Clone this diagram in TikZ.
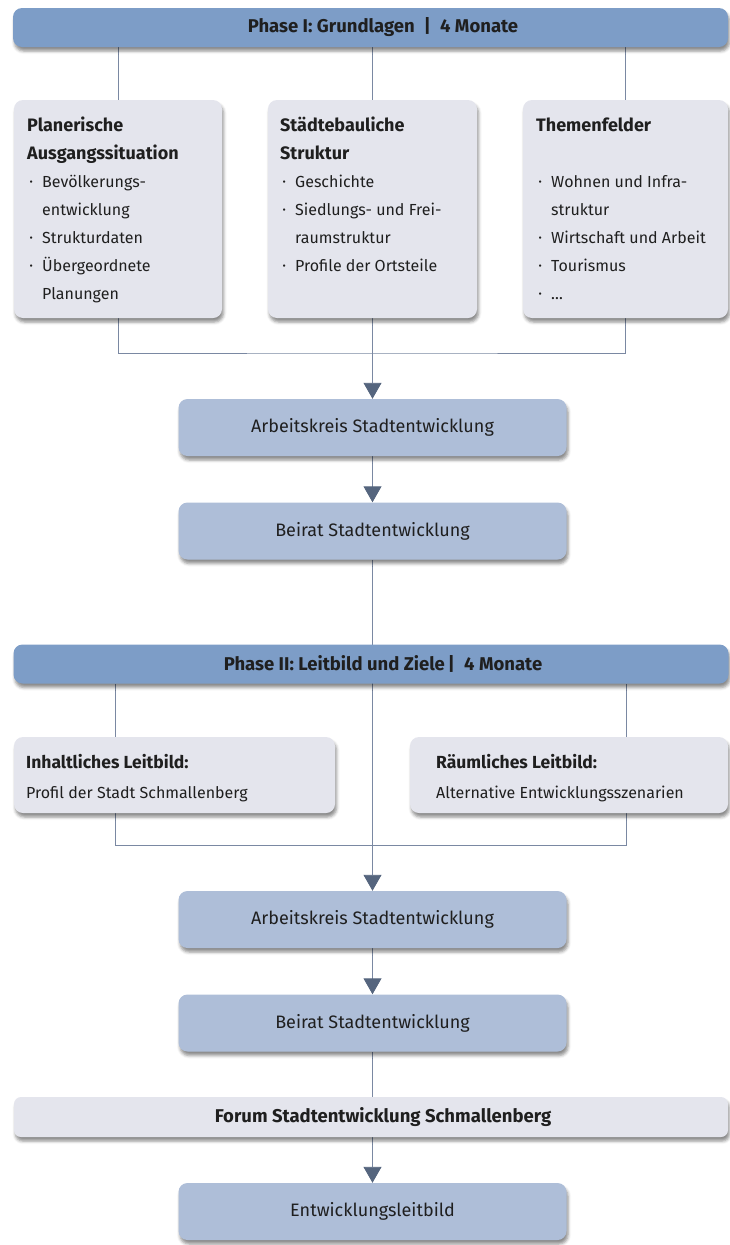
\documentclass[tikz,border=0pt]{standalone}
\usepackage{fontspec}
\setmainfont{Fira Sans}
\usetikzlibrary{arrows.meta,shadows.blur,calc}
\definecolor{hdr}{HTML}{7D9DC7}
\definecolor{mid}{HTML}{AEBED8}
\definecolor{lite}{HTML}{E4E5ED}
\definecolor{ln}{HTML}{7A88A2}
\definecolor{arr}{HTML}{55657E}
\definecolor{txt}{HTML}{1F1F1F}
\pgfdeclarelayer{bg}
\pgfsetlayers{bg,main}
\newcommand\itmb{\makebox[15pt][l]{\hspace{2.5pt}\raisebox{0.15ex}{\fontsize{10}{10}\selectfont\textbullet}}}
\newcommand\itmi{\hspace*{15pt}}
\tikzset{
  shd/.style={blur shadow={shadow xshift=1.5pt,shadow yshift=-4pt,shadow blur radius=3pt,shadow opacity=45}},
  hdrbar/.style={shd, fill=hdr, rounded corners=9pt, minimum width=715pt, minimum height=39pt, inner sep=0pt},
  litebox/.style={shd, fill=lite, rounded corners=9pt, inner sep=0pt},
  midbox/.style={shd, fill=mid, rounded corners=9pt, minimum width=388pt, minimum height=57pt, inner sep=0pt, font=\fontsize{18}{21}\selectfont, text=txt},
  htext/.style={font=\bfseries\fontsize{18.5}{22}\selectfont, text=txt, inner sep=0pt},
  boxtext/.style={anchor=base west, inner sep=0pt, text=txt},
  conn/.style={draw=ln, line width=0.9pt},
  arrowc/.style={conn, -{Triangle[width=18pt,length=16pt,color=arr]}}
}
\begin{document}
\begin{tikzpicture}[x=1pt,y=-1pt]
\useasboundingbox (0,0) rectangle (729,1245);
% Phase I
\node[hdrbar] (p1) at (370.5,27.5) {};
\node[htext] (p1t) at (383,27.5) {Phase I: Grundlagen\enspace|\enspace 4 Monate};
\node[litebox, minimum width=208pt, minimum height=218pt] (b1) at (118,209) {};
\node[litebox, minimum width=209pt, minimum height=218pt] (b2) at (372.5,209) {};
\node[litebox, minimum width=205pt, minimum height=218pt] (b3) at (625.5,209) {};
\node[boxtext] (b1t) at (27,131) {\parbox[t]{200pt}{\raggedright\fontsize{16}{28}\selectfont
 {\bfseries\fontsize{18}{28}\selectfont Planerische\\Ausgangssituation}\\
 \itmb Bevölkerungs-\\
 \itmi entwicklung\\
 \itmb Strukturdaten\\
 \itmb Übergeordnete\\
 \itmi Planungen}};
\node[boxtext] (b2t) at (280,131) {\parbox[t]{200pt}{\raggedright\fontsize{16}{28}\selectfont
 {\bfseries\fontsize{18}{28}\selectfont Städtebauliche\\Struktur}\\
 \itmb Geschichte\\
 \itmb Siedlungs- und Frei-\\
 \itmi raumstruktur\\
 \itmb Profile der Ortsteile}};
\node[boxtext] (b3t) at (536,131) {\parbox[t]{200pt}{\raggedright\fontsize{16}{28}\selectfont
 {\bfseries\fontsize{18}{28}\selectfont Themenfelder}\\
 \mbox{}\\
 \itmb Wohnen und Infra-\\
 \itmi struktur\\
 \itmb Wirtschaft und Arbeit\\
 \itmb Tourismus\\
 \itmb …}};
\node[midbox] (a1) at (372.5,427.5) {Arbeitskreis Stadtentwicklung};
\node[midbox] (r1) at (372.5,531) {Beirat Stadtentwicklung};
% Phase II
\node[hdrbar] (p2) at (371,664) {};
\node[htext] (p2t) at (383,664) {Phase II: Leitbild und Ziele\,|\enspace 4 Monate};
\node[litebox, minimum width=321pt, minimum height=76pt] (c1) at (174.5,775) {};
\node[litebox, minimum width=318pt, minimum height=76pt] (c2) at (569,775) {};
\node[boxtext] (c1t) at (26,768) {\parbox[t]{300pt}{\raggedright\fontsize{16}{30}\selectfont
 {\bfseries\fontsize{17.5}{30}\selectfont Inhaltliches Leitbild:}\\
 Profil der Stadt Schmallenberg}};
\node[boxtext] (c2t) at (436,768) {\parbox[t]{300pt}{\raggedright\fontsize{16}{30}\selectfont
 {\bfseries\fontsize{17.5}{30}\selectfont Räumliches Leitbild:}\\
 Alternative Entwicklungsszenarien}};
\node[midbox] (a2) at (372.5,919.5) {Arbeitskreis Stadtentwicklung};
\node[midbox] (r2) at (372.5,1023) {Beirat Stadtentwicklung};
\node[litebox, rounded corners=7pt, minimum width=714pt, minimum height=40pt] (f) at (371,1117) {};
\node[htext] (ft) at (383,1117) {Forum Stadtentwicklung Schmallenberg};
\node[midbox] (e) at (372.5,1211.5) {Entwicklungsleitbild};
% connectors
\coordinate (j1) at (372.5,353);
\coordinate (j2) at (372.5,845);
\coordinate (k1) at (115,0);
\coordinate (k3) at (626,0);
\begin{pgfonlayer}{bg}
\draw[conn] (p1.south -| b1.north) -- (b1.north);
\draw[conn] (p1.south -| b2.north) -- (b2.north);
\draw[conn] (p1.south -| b3.north) -- (b3.north);
\draw[conn] (b1.south) |- (j1) -| (b3.south);
\draw[arrowc] (b2.south) -- (a1.north);
\draw[arrowc] (a1.south) -- (r1.north);
\draw[arrowc] (r1.south) -- (a2.north);
\draw[conn] (p2.south -| k1) -- (c1.north -| k1);
\draw[conn] (p2.south -| k3) -- (c2.north -| k3);
\draw[conn] (c1.south -| k1) |- (j2) -| (c2.south -| k3);
\draw[arrowc] (a2.south) -- (r2.north);
\draw[conn] (r2.south) -- (r2.south |- f.north);
\draw[arrowc] (f.south -| e.north) -- (e.north);
\end{pgfonlayer}
\end{tikzpicture}
\end{document}
